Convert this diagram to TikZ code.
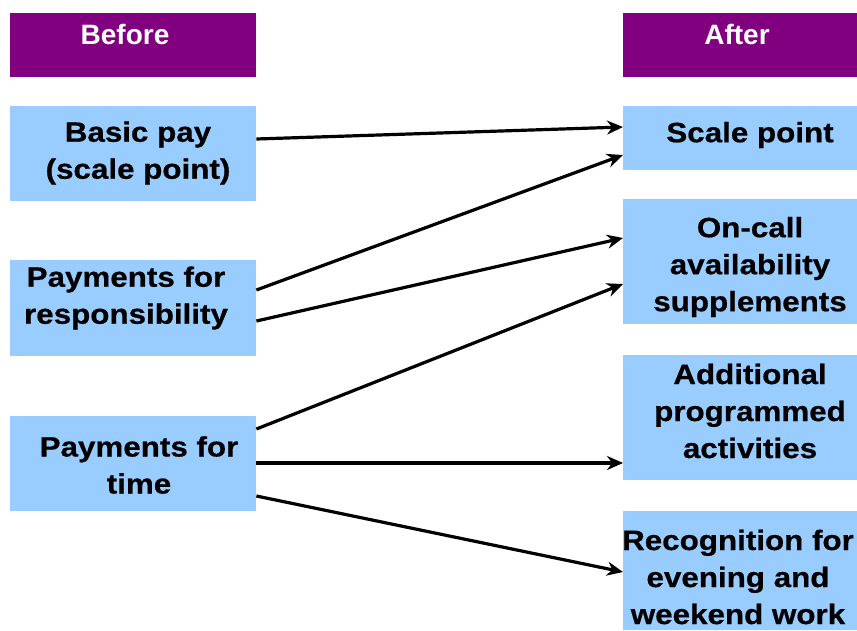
\documentclass[tikz,border=0pt]{standalone}
\usepackage{fontspec}
\setmainfont{Liberation Sans}
\newfontfamily\headfont{Liberation Sans}[BoldFont={Liberation Sans Bold}]
\newfontfamily\bodyfont{Liberation Sans}[BoldFont={Liberation Sans Bold},BoldFeatures={FakeStretch=1.12,FakeBold=0.6}]
\usetikzlibrary{arrows.meta}
\definecolor{hdrpurple}{HTML}{800080}
\definecolor{boxblue}{HTML}{99CCFF}
\tikzset{
  hdrbox/.style={fill=hdrpurple, draw=none, inner sep=0pt, anchor=north west},
  itembox/.style={fill=boxblue, draw=none, inner sep=0pt, anchor=north west},
  hdrtext/.style={text=white, font=\headfont\bfseries\fontsize{28}{34}\selectfont, inner sep=0pt},
  itemtext/.style={text=black, align=center, font=\bodyfont\bfseries\fontsize{28}{37}\selectfont, inner sep=0pt},
  arr/.style={line width=3.2pt, -{Stealth[length=16pt,width=14pt]}}
}
\begin{document}
\begin{tikzpicture}[x=1pt,y=-1pt]
\useasboundingbox (0,0) rectangle (857,630);

% column headers
\node[hdrbox, minimum width=246pt, minimum height=64pt] (before) at (10,13) {};
\node[hdrbox, minimum width=234pt, minimum height=64pt] (after) at (623,13) {};
\node[hdrtext] (beforet) at (125,34) {Before};
\node[hdrtext] (aftert) at (737,34) {After};

% left column
\node[itembox, minimum width=246pt, minimum height=95pt] (basic) at (10,106) {};
\node[itembox, minimum width=246pt, minimum height=96pt] (resp) at (10,260) {};
\node[itembox, minimum width=246pt, minimum height=95pt] (time) at (10,416) {};
\node[itemtext] (basict) at (138,153) {Basic pay\\(scale point)};
\node[itemtext] (respt) at (126,298) {Payments for\\responsibility};
\node[itemtext] (timet) at (139,465) {Payments for\\time};

% right column
\node[itembox, minimum width=234pt, minimum height=64pt] (scale) at (623,106) {};
\node[itembox, minimum width=234pt, minimum height=125pt] (oncall) at (623,199) {};
\node[itembox, minimum width=234pt, minimum height=125pt] (addl) at (623,355) {};
\node[itembox, minimum width=234pt, minimum height=119pt] (recog) at (623,511) {};
\node[itemtext] (scalet) at (750,135) {Scale point};
\node[itemtext] (oncallt) at (750,267) {On-call\\availability\\supplements};
\node[itemtext] (addlt) at (750,411) {Additional\\programmed\\activities};
\node[itemtext] (recogt) at (738,577) {Recognition for\\evening and\\weekend work};

% mappings
\draw[arr] ([yshift=-33pt]basic.north east) -- ([yshift=-21pt]scale.north west);
\draw[arr] ([yshift=-30pt]resp.north east) -- ([yshift=-49pt]scale.north west);
\draw[arr] ([yshift=-61pt]resp.north east) -- ([yshift=-39pt]oncall.north west);
\draw[arr] ([yshift=-13pt]time.north east) -- ([yshift=-85pt]oncall.north west);
\draw[arr] ([yshift=-47pt]time.north east) -- ([yshift=-108pt]addl.north west);
\draw[arr] ([yshift=-80pt]time.north east) -- ([yshift=-61pt]recog.north west);
\end{tikzpicture}
\end{document}
